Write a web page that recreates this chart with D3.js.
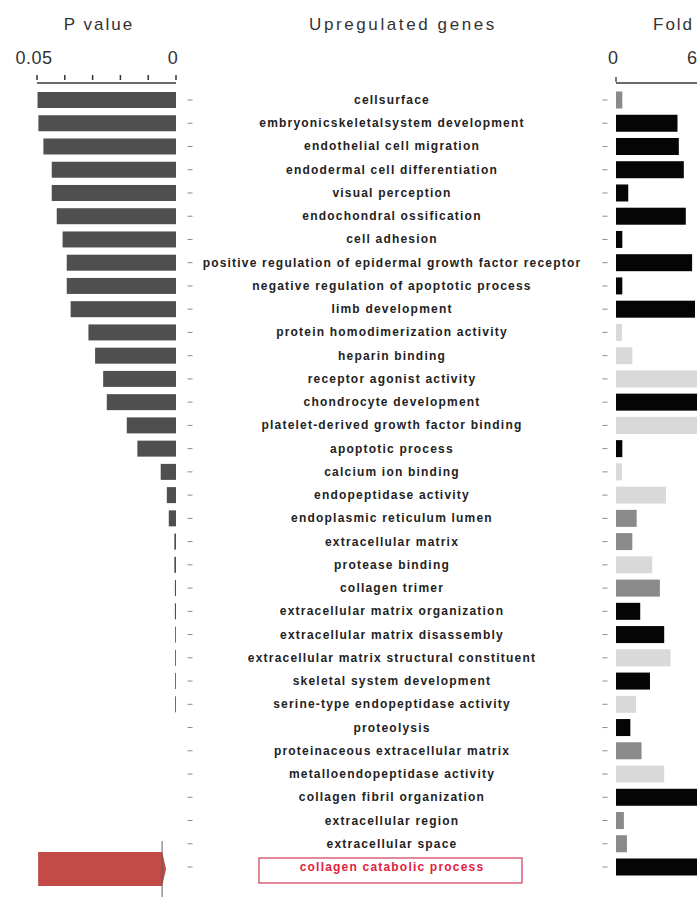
<!DOCTYPE html>
<html>
<head>
<meta charset="utf-8">
<script src="https://cdn.jsdelivr.net/npm/d3@7"></script>
<style>
  body { margin: 0; background: #fff; }
  svg { display: block; font-family: "Liberation Sans", Arial, sans-serif; }
</style>
</head>
<body>
<div id="chart"></div>
<script>
// GO terms (top to bottom)
const terms = [
  "cellsurface",
  "embryonicskeletalsystem development",
  "endothelial cell migration",
  "endodermal cell differentiation",
  "visual perception",
  "endochondral ossification",
  "cell adhesion",
  "positive regulation of epidermal growth factor receptor",
  "negative regulation of apoptotic process",
  "limb development",
  "protein homodimerization activity",
  "heparin binding",
  "receptor agonist activity",
  "chondrocyte development",
  "platelet-derived growth factor binding",
  "apoptotic process",
  "calcium ion binding",
  "endopeptidase activity",
  "endoplasmic reticulum lumen",
  "extracellular matrix",
  "protease binding",
  "collagen trimer",
  "extracellular matrix organization",
  "extracellular matrix disassembly",
  "extracellular matrix structural constituent",
  "skeletal system development",
  "serine-type endopeptidase activity",
  "proteolysis",
  "proteinaceous extracellular matrix",
  "metalloendopeptidase activity",
  "collagen fibril organization",
  "extracellular region",
  "extracellular space",
  "collagen catabolic process"
];

// P values (left panel)
const pValues = [
  0.0498, 0.0495, 0.0477, 0.0447, 0.0447, 0.0429, 0.0408, 0.0393, 0.0393, 0.0379,
  0.0315, 0.0291, 0.0262, 0.0249, 0.0177, 0.0139, 0.0055, 0.0033, 0.0026, 0.0006,
  0.0006, 0.0004, 0.0004, 0.0003, 0.0003, 0.0003, 0.0003, 0, 0, 0,
  0, 0, 0, 0
];

// Fold change (right panel)
const folds = [
  0.48, 4.67, 4.77, 5.15, 0.93, 5.3, 0.48, 5.78, 0.48, 6.0,
  0.45, 1.24, 7.5, 8.0, 7.0, 0.48, 0.45, 3.79, 1.57, 1.24,
  2.75, 3.33, 1.84, 3.66, 4.14, 2.58, 1.52, 1.09, 1.94, 3.66,
  7.0, 0.6, 0.83, 8.0
];

// fold bar shade group: b = black, m = mid grey, l = light grey
const foldGroups = [
  "m", "b", "b", "b", "b", "b", "b", "b", "b", "b",
  "l", "l", "l", "b", "l", "b", "l", "l", "m", "m",
  "l", "m", "b", "b", "l", "b", "l", "b", "m", "l",
  "b", "m", "m", "b"
];

const pTicks = [0.05, 0.04, 0.03, 0.02, 0.01, 0];
const pTickLabels = ["0.05", "0"];
const foldTickLabels = [0, 6];

// highlighted term (red arrow)
const highlightTerm = "collagen catabolic process";
const highlightRange = [0.0496, 0.005];

const width = 697, height = 897;

const svg = d3.select("#chart").append("svg")
  .attr("width", width)
  .attr("height", height);

svg.append("rect").attr("width", width).attr("height", height).attr("fill", "#fff");

// row positions
const y = d3.scalePoint()
  .domain(terms)
  .range([100, 867]);

const pScale = d3.scaleLinear().domain([0.05, 0]).range([37, 176]);
const foldScale = d3.scaleLinear().domain([0, 6]).range([616, 695]);

const foldColor = d3.scaleOrdinal()
  .domain(["b", "m", "l"])
  .range(["#050505", "#8a8a8a", "#d9d9d9"]);

const barH = 16;

/////////////// titles ///////////////
svg.append("text")
  .attr("x", 99).attr("y", 30)
  .attr("text-anchor", "middle")
  .style("font-size", "17px").style("letter-spacing", "2px")
  .attr("fill", "#333")
  .text("P value");

svg.append("text")
  .attr("x", 403).attr("y", 30)
  .attr("text-anchor", "middle")
  .style("font-size", "17px").style("letter-spacing", "2.6px")
  .attr("fill", "#333")
  .text("Upregulated  genes");

svg.append("text")
  .attr("x", 653).attr("y", 30)
  .style("font-size", "17px").style("letter-spacing", "2px")
  .attr("fill", "#333")
  .text("Fold");

/////////////// P value axis ///////////////
const pAxis = svg.append("g");

pAxis.append("line")
  .attr("x1", pScale(0.05)).attr("x2", pScale(0))
  .attr("y1", 83).attr("y2", 83)
  .attr("stroke", "#6a6a6a").attr("stroke-width", 2);

pAxis.selectAll(".tick")
  .data(pTicks)
  .enter().append("line")
  .attr("x1", d => pScale(d)).attr("x2", d => pScale(d))
  .attr("y1", 75).attr("y2", 80)
  .attr("stroke", "#333").attr("stroke-width", 1.5);

pAxis.selectAll(".lbl")
  .data(pTickLabels)
  .enter().append("text")
  .attr("x", d => pScale(+d) - 3)
  .attr("y", 64)
  .attr("text-anchor", "middle")
  .style("font-size", "18px").style("letter-spacing", "0.5px")
  .attr("fill", "#333")
  .text(d => d);

/////////////// Fold axis ///////////////
const fAxis = svg.append("g");

fAxis.append("line")
  .attr("x1", foldScale(0)).attr("x2", width)
  .attr("y1", 83).attr("y2", 83)
  .attr("stroke", "#6a6a6a").attr("stroke-width", 2);

fAxis.append("line")
  .attr("x1", foldScale(0)).attr("x2", foldScale(0))
  .attr("y1", 77).attr("y2", 82)
  .attr("stroke", "#555").attr("stroke-width", 1.5);

fAxis.selectAll(".lbl")
  .data(foldTickLabels)
  .enter().append("text")
  .attr("x", d => foldScale(d) - 3)
  .attr("y", 64)
  .attr("text-anchor", "middle")
  .style("font-size", "18px")
  .attr("fill", "#333")
  .text(d => d);

/////////////// P value bars ///////////////
svg.append("g").selectAll("rect")
  .data(terms)
  .enter().append("rect")
  .attr("x", (d, i) => pScale(pValues[i]))
  .attr("width", (d, i) => pScale(0) - pScale(pValues[i]))
  .attr("y", d => y(d) - barH / 2)
  .attr("height", barH)
  .attr("fill", "#4f4f4f");

// highlight arrow
const hy = y(highlightTerm) + 2;
const hx0 = pScale(highlightRange[0]), hx1 = pScale(highlightRange[1]);
svg.append("path")
  .attr("d", `M${hx0},${hy - 17}L${hx1},${hy - 17}L${hx1 + 4},${hy}L${hx1},${hy + 17}L${hx0},${hy + 17}Z`)
  .attr("fill", "#c24b47");
svg.append("line")
  .attr("x1", hx1).attr("x2", hx1)
  .attr("y1", hy - 28).attr("y2", height)
  .attr("stroke", "#6b5a58").attr("stroke-width", 1);

/////////////// row tick dashes ///////////////
[190, 605].forEach(cx => {
  svg.append("g").selectAll("line")
    .data(terms)
    .enter().append("line")
    .attr("x1", cx - 2.5).attr("x2", cx + 2.5)
    .attr("y1", d => y(d)).attr("y2", d => y(d))
    .attr("stroke", "#8c8c8c").attr("stroke-width", 1);
});

/////////////// term labels ///////////////
svg.append("g").selectAll("text")
  .data(terms)
  .enter().append("text")
  .attr("x", 392)
  .attr("y", d => y(d) + 4)
  .attr("text-anchor", "middle")
  .style("font-size", "12px")
  .style("font-weight", "bold")
  .style("letter-spacing", "1.2px")
  .attr("fill", d => d === highlightTerm ? "#e0213f" : "#222")
  .text(d => d);

// highlight box round the term
svg.append("rect")
  .attr("x", 259).attr("y", y(highlightTerm) - 9)
  .attr("width", 263).attr("height", 25)
  .attr("fill", "none")
  .attr("stroke", "#d23a55").attr("stroke-width", 1.2);

/////////////// Fold bars ///////////////
svg.append("g").selectAll("rect")
  .data(terms)
  .enter().append("rect")
  .attr("x", foldScale(0))
  .attr("width", (d, i) => foldScale(folds[i]) - foldScale(0))
  .attr("y", d => y(d) - 8.5)
  .attr("height", 17)
  .attr("fill", (d, i) => foldColor(foldGroups[i]));
</script>
</body>
</html>
